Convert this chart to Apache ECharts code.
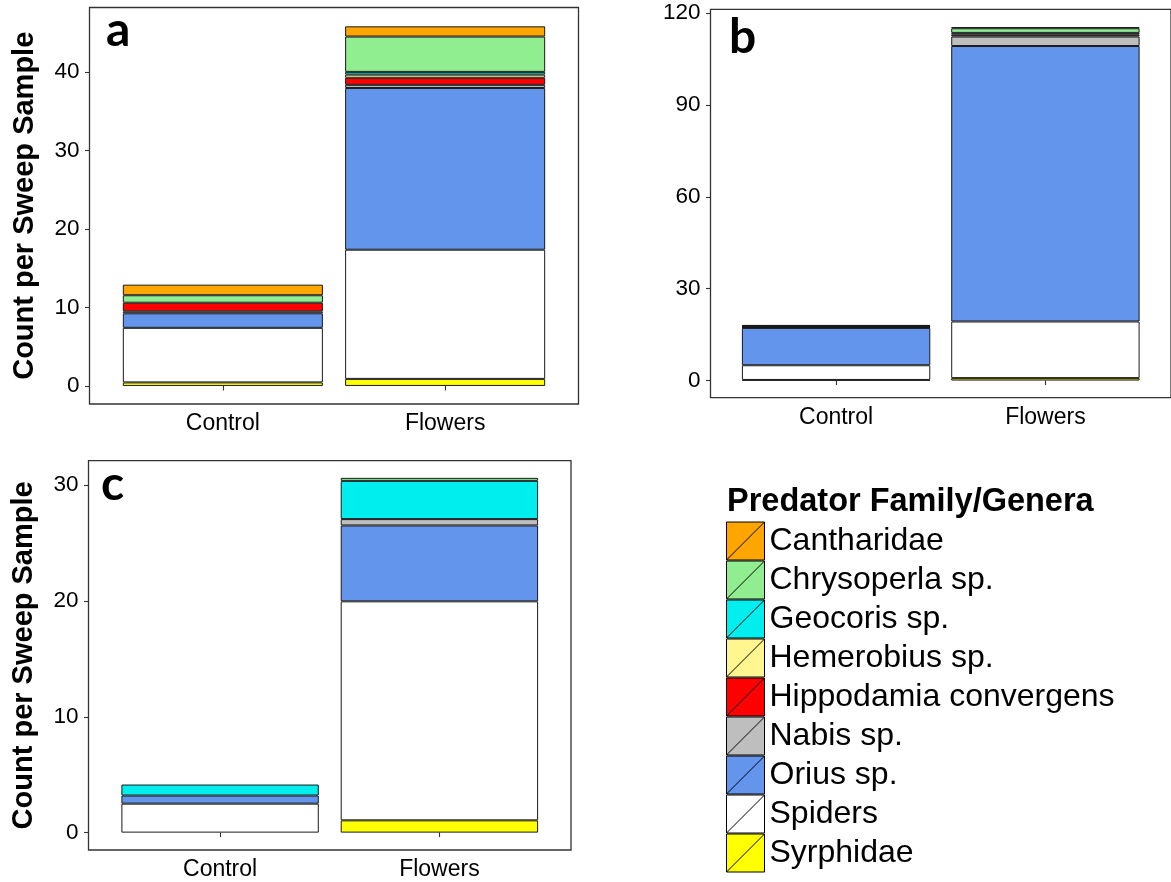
<!DOCTYPE html>
<html><head><meta charset="utf-8">
<script src="https://cdn.jsdelivr.net/npm/echarts@6/dist/echarts.min.js"></script>
<style>html,body{margin:0;padding:0;background:#fff}#c{width:1171px;height:882px}</style>
</head><body><div id="c"></div>
<script>
// ---- data ----
const categories = ['Control', 'Flowers'];
const taxa = ['Cantharidae', 'Chrysoperla sp.', 'Geocoris sp.', 'Hemerobius sp.', 'Hippodamia convergens', 'Nabis sp.', 'Orius sp.', 'Spiders', 'Syrphidae'];
const taxaColors = ['#FFA500', '#90EE90', '#00EEEE', '#FFF68F', '#FF0000', '#BEBEBE', '#6495ED', '#FFFFFF', '#FFFF00'];
// values in taxa order (Cantharidae ... Syrphidae); null = absent
const panelA_Control = [1.35, 0.95, null, null, 1.1, 0.25, 1.85, 6.95, 0.45];
const panelA_Flowers = [1.3, 4.5, 0.35, 0.4, 0.9, 0.4, 20.6, 16.45, 0.9];
const panelB_Control = [0.2, 0.2, 0.1, null, 0.2, 0.2, 12.2, 4.8, 0.2];
const panelB_Flowers = [0.4, 1.5, 0.6, null, 0.6, 3.1, 90.0, 18.5, 0.8];
const panelC_Control = [null, null, 0.95, null, null, null, 0.7, 2.5, null];
const panelC_Flowers = [null, 0.26, 3.3, null, null, 0.55, 6.55, 18.9, 1.06];
const yTicksA = [0, 10, 20, 30, 40];
const yTicksB = [0, 30, 60, 90, 120];
const yTicksC = [0, 10, 20, 30];
const xPositions = [1, 2];
const panelLetters = ['a', 'b', 'c'];
const yTitle = 'Count per Sweep Sample';
const legendTitle = 'Predator Family/Genera';

// ---- layout ----
const FONT = 'Liberation Sans, Arial, sans-serif';
const panels = [
  { ctrl: panelA_Control, flw: panelA_Flowers, ticks: yTicksA, min: -2.3, max: 48.2,
    grid: { left: 89.5, top: 7.5, width: 489, height: 396.5 }, yName: true },
  { ctrl: panelB_Control, flw: panelB_Flowers, ticks: yTicksB, min: -5.6, max: 121.3,
    grid: { left: 710.5, top: 9.3, width: 468, height: 388.4 }, yName: false },
  { ctrl: panelC_Control, flw: panelC_Flowers, ticks: yTicksC, min: -1.5, max: 32.1,
    grid: { left: 88.5, top: 460.7, width: 482.5, height: 389.3 }, yName: true }
];

const grids = [], xAxes = [], yAxes = [], series = [];
panels.forEach((p, pi) => {
  grids.push(Object.assign({ show: true, borderColor: '#333', borderWidth: 1.3, backgroundColor: 'transparent', containLabel: false }, p.grid));
  xAxes.push({
    type: 'value', gridIndex: pi, min: 0.4, max: 2.6,
    splitLine: { show: false },
    axisLine: { show: false },
    axisTick: { show: true, customValues: xPositions, length: 4.5, lineStyle: { color: '#333', width: 1.1 } },
    axisLabel: { show: true, customValues: xPositions, margin: 8, fontSize: 23, fontFamily: FONT, color: '#000',
      formatter: v => categories[Math.round(v) - 1] || '' }
  });
  yAxes.push({
    type: 'value', gridIndex: pi, min: p.min, max: p.max,
    splitLine: { show: false },
    axisLine: { show: false },
    axisTick: { show: true, customValues: p.ticks, length: 4.5, lineStyle: { color: '#333', width: 1.1 } },
    axisLabel: { show: true, customValues: p.ticks, margin: 10, fontSize: 22.5, fontFamily: FONT, color: '#000' },
    name: p.yName ? yTitle : '',
    nameLocation: 'middle', nameGap: 50,
    nameTextStyle: { fontSize: 29, fontWeight: 'bold', fontFamily: FONT, color: '#000', lineHeight: 29 }
  });
  // stack bottom -> top : Syrphidae ... Cantharidae
  for (let i = taxa.length - 1; i >= 0; i--) {
    series.push({
      type: 'bar', name: taxa[i], xAxisIndex: pi, yAxisIndex: pi, stack: 'p' + pi,
      barWidth: '90%',
      // value first so the stacked dimension is the y value
      data: [[p.ctrl[i], xPositions[0]], [p.flw[i], xPositions[1]]],
      encode: { x: 1, y: 0 },
      itemStyle: { color: taxaColors[i], borderColor: '#1a1a1a', borderWidth: 1 },
      emphasis: { disabled: true }
    });
  }
});

const option = {
  animation: false,
  backgroundColor: '#fff',
  grid: grids, xAxis: xAxes, yAxis: yAxes, series: series,
  title: [
    { text: legendTitle, left: 727, top: 486, padding: 0,
      textStyle: { fontSize: 32.5, fontWeight: 'bold', fontFamily: FONT, color: '#000' } },
    { text: panelLetters[0], left: 106, top: 7, padding: 0,
      textStyle: { fontSize: 48, fontWeight: 'bold', fontFamily: 'Lato, sans-serif', color: '#000', lineHeight: 48 } },
    { text: panelLetters[1], left: 729, top: 14, padding: 0,
      textStyle: { fontSize: 48, fontWeight: 'bold', fontFamily: 'Lato, sans-serif', color: '#000', lineHeight: 48 } },
    { text: panelLetters[2], left: 101, top: 461, padding: 0,
      textStyle: { fontSize: 48, fontWeight: 'bold', fontFamily: 'Lato, sans-serif', color: '#000', lineHeight: 48 } }
  ],
  legend: {
    data: taxa, orient: 'vertical', left: 726, top: 521.5, padding: 0,
    itemWidth: 38, itemHeight: 38.4, itemGap: 0, selectedMode: false,
    icon: 'path://M0,0L10,0L10,10L0,10Z M0,10L10,0',
    itemStyle: { borderColor: '#000', borderWidth: 1 },
    textStyle: { fontSize: 32, fontFamily: FONT, color: '#000' }
  }
};
echarts.init(document.getElementById('c'), null, { renderer: 'canvas' }).setOption(option);
</script>
</body></html>
